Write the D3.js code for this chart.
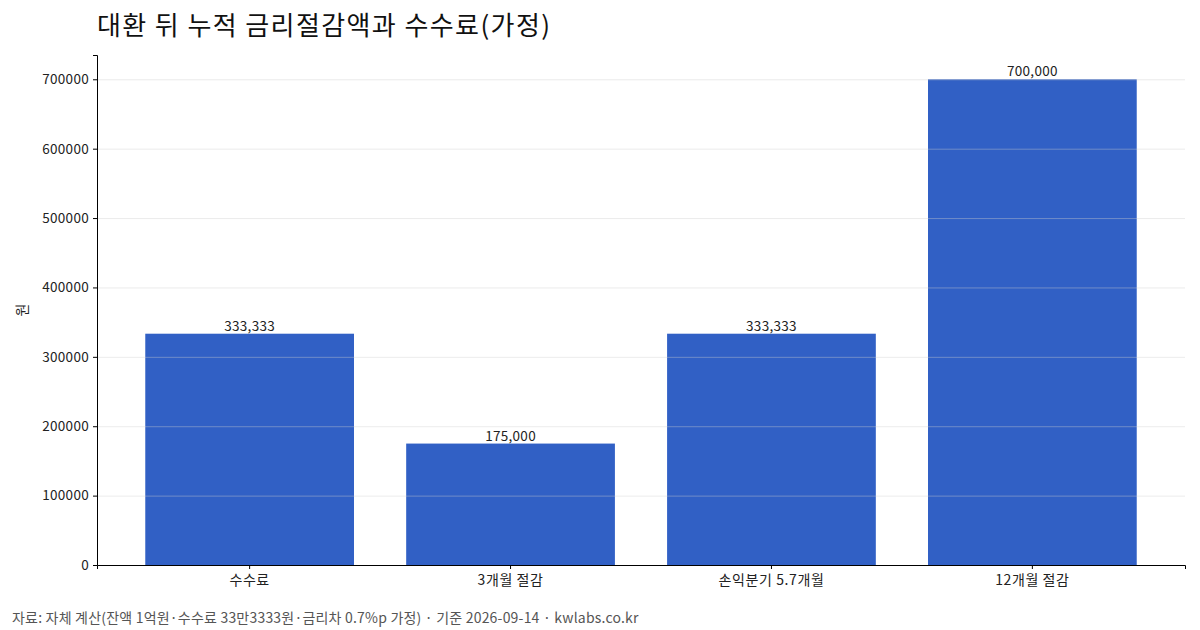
<!DOCTYPE html>
<html><head><meta charset="utf-8">
<script src="https://cdn.jsdelivr.net/npm/d3@7"></script>
<style>
html,body{margin:0;padding:0;background:#fff;}
svg text{font-family:"Noto Sans CJK KR","Noto Sans",sans-serif;}
</style></head>
<body><svg id="c" width="1200" height="630"></svg>
<script>
const categories = ["수수료", "3개월 절감", "손익분기 5.7개월", "12개월 절감"];
const values = [333333, 175000, 333333, 700000];
const yTicks = [0, 100000, 200000, 300000, 400000, 500000, 600000, 700000];
const title = "대환 뒤 누적 금리절감액과 수수료(가정)";
const yLabel = "원";
const footer = "자료: 자체 계산(잔액 1억원·수수료 33만3333원·금리차 0.7%p 가정) · 기준 2026-09-14 · kwlabs.co.kr";

const svg = d3.select("#c");
const m = {l:97, r:1185, t:55, b:565};
const x = d3.scaleBand().domain(categories).range([m.l, m.r]).paddingInner(0.2).paddingOuter(0.185);
const y = d3.scaleLinear().domain([0, 735000]).range([m.b, m.t]);

// bars
svg.append("g").selectAll("rect").data(values).join("rect")
  .attr("x", (d,i)=>x(categories[i])).attr("width", x.bandwidth())
  .attr("y", d=>y(d)).attr("height", d=>y(0)-y(d))
  .attr("fill", "#3160c5");

// grid (on top, faint)
svg.append("g").selectAll("line").data(yTicks.slice(1)).join("line")
  .attr("x1", m.l).attr("x2", m.r).attr("y1", d=>y(d)+0.5).attr("y2", d=>y(d)+0.5)
  .attr("stroke", "#cccccc").attr("stroke-opacity", 0.4).attr("stroke-width", 1);

// axes
const ya = svg.append("g").attr("transform", `translate(${m.l},0)`)
  .call(d3.axisLeft(y).tickValues(yTicks).tickFormat(d3.format("d")).tickSizeOuter(0).tickSize(4));
ya.select(".domain").attr("stroke", "#000");
ya.selectAll("text").attr("font-size", 13.5).attr("letter-spacing", 0.3).attr("fill", "#222").attr("dx", "-1");
const xa = svg.append("g").attr("transform", `translate(0,${m.b})`)
  .call(d3.axisBottom(x).tickSizeOuter(0).tickSize(4));
xa.select(".domain").attr("stroke", "#000");
xa.selectAll("text").attr("font-size", 14).attr("letter-spacing", 0.6).attr("fill", "#222").attr("dy", "0.9em");

// value labels
svg.append("g").selectAll("text").data(values).join("text")
  .attr("x", (d,i)=>x(categories[i]) + x.bandwidth()/2).attr("y", d=>y(d)-3)
  .attr("text-anchor", "middle").attr("font-size", 13.5).attr("letter-spacing", 0.3).attr("fill", "#222")
  .text(d=>d3.format(",")(d));

// y label
svg.append("text").attr("transform", "translate(27,310) rotate(-90)")
  .attr("text-anchor", "middle").attr("font-size", 14).attr("fill", "#222").text(yLabel);

// title
svg.append("text").attr("x", 97).attr("y", 35).attr("font-size", 26).attr("letter-spacing", 1.4).attr("fill", "#111").text(title);

// footer
svg.append("text").attr("x", 12).attr("y", 623).attr("font-size", 14).attr("letter-spacing", 0.2).attr("fill", "#555").text(footer);
</script></body></html>
